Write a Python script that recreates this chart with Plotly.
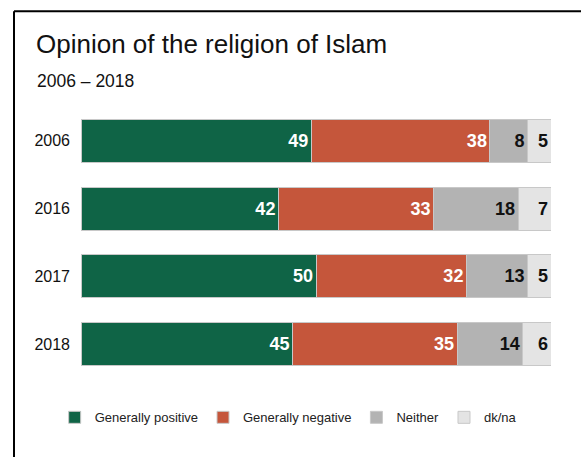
import plotly.graph_objects as go

years = ["2006", "2016", "2017", "2018"]
positive = [49, 42, 50, 45]
negative = [38, 33, 32, 35]
neither = [8, 18, 13, 14]
dkna = [5, 7, 5, 6]

series = [
    ("Generally positive", positive, "#0f6446", "white"),
    ("Generally negative", negative, "#c5563b", "white"),
    ("Neither", neither, "#b3b3b3", "#111111"),
    ("dk/na", dkna, "#e4e4e4", "#111111"),
]

FONT = "Liberation Sans, Arial, sans-serif"

fig = go.Figure()
for name, vals, color, tcolor in series:
    fig.add_trace(go.Bar(
        y=years, x=vals, name=name, orientation="h",
        marker=dict(color=color, line=dict(color="#c8c8c8", width=1)),
        text=vals, texttemplate="%{x}", textposition="inside",
        insidetextanchor="end", textangle=0,
        insidetextfont=dict(family=FONT, size=18, color=tcolor, weight="bold"),
        hoverinfo="skip",
    ))

fig.update_layout(
    width=581, height=457,
    margin=dict(l=81, r=30, t=106.5, b=78.5),
    paper_bgcolor="white", plot_bgcolor="white",
    barmode="stack", bargap=0.368,
    showlegend=True,
    legend=dict(orientation="h", x=-0.056, y=-0.09, xanchor="left", yanchor="top",
                traceorder="normal",
                font=dict(family=FONT, size=13, color="#222222")),
    title=dict(text="Opinion of the religion of Islam", xref="container", yref="container",
               x=36/581, y=1-35/457, xanchor="left", yanchor="top",
               font=dict(family=FONT, size=26, color="#111111")),
    annotations=[dict(text="2006 – 2018", xref="paper", yref="paper",
                      x=(35-81)/470, y=(378.5-68)/272, xanchor="left", yanchor="top",
                      showarrow=False, font=dict(family=FONT, size=17.5, color="#111111"))],
    shapes=[
        dict(type="line", xref="paper", yref="paper", x0=(14-81)/470, x1=(590-81)/470,
             y0=(378.5-10.5)/272, y1=(378.5-10.5)/272, line=dict(color="black", width=2)),
        dict(type="line", xref="paper", yref="paper", x0=(14-81)/470, x1=(14-81)/470,
             y0=(378.5-10.5)/272, y1=(378.5-470)/272, line=dict(color="black", width=2)),
    ],
)
fig.update_xaxes(range=[0, 100], visible=False, fixedrange=True)
fig.update_yaxes(type="category", autorange="reversed", showgrid=False, showline=False,
                 ticks="", ticklabelstandoff=10, fixedrange=True,
                 tickfont=dict(family=FONT, size=16, color="#111111"))

fig.write_html("out.html", config={"displayModeBar": False},
               post_script="document.body.style.margin='0';")
